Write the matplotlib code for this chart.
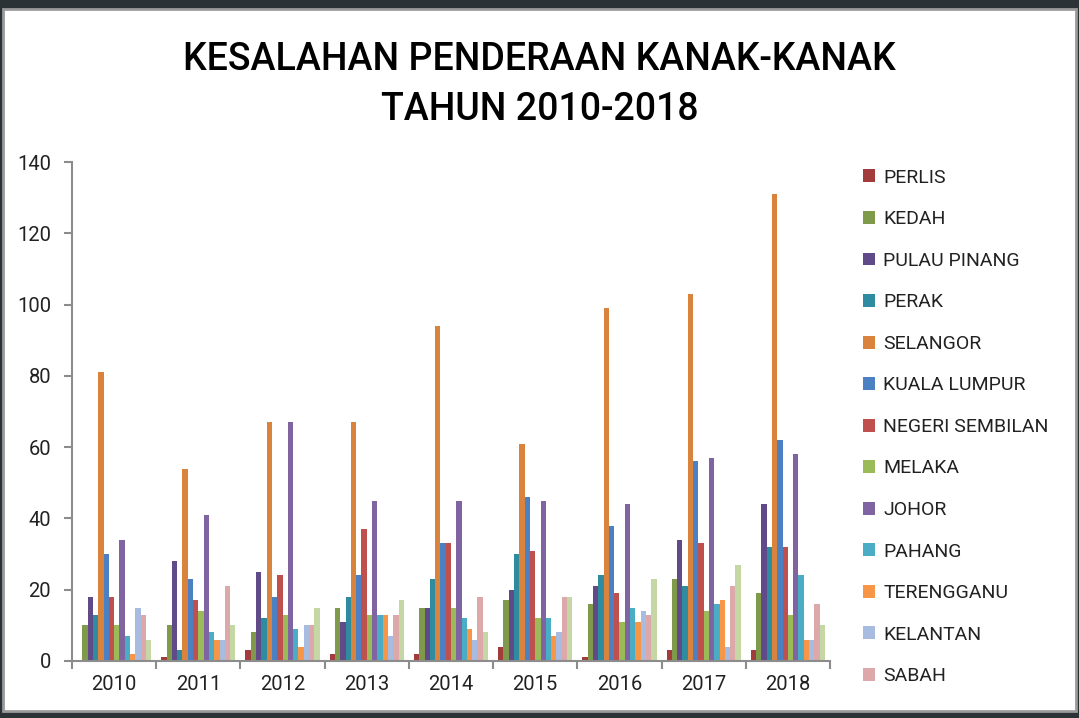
import numpy as np
import matplotlib
matplotlib.use("Agg")
import matplotlib.pyplot as plt
from matplotlib.patches import Patch, Rectangle
from matplotlib.ticker import FixedLocator

years = ["2010", "2011", "2012", "2013", "2014", "2015", "2016", "2017", "2018"]

states = ["PERLIS", "KEDAH", "PULAU PINANG", "PERAK", "SELANGOR", "KUALA LUMPUR",
          "NEGERI SEMBILAN", "MELAKA", "JOHOR", "PAHANG", "TERENGGANU",
          "KELANTAN", "SABAH", "SARAWAK"]

perlis     = [0, 1, 3, 2, 2, 4, 1, 3, 3]
kedah      = [10, 10, 8, 15, 15, 17, 16, 23, 19]
p_pinang   = [18, 28, 25, 11, 15, 20, 21, 34, 44]
perak      = [13, 3, 12, 18, 23, 30, 24, 21, 32]
selangor   = [81, 54, 67, 67, 94, 61, 99, 103, 131]
kl         = [30, 23, 18, 24, 33, 46, 38, 56, 62]
n_sembilan = [18, 17, 24, 37, 33, 31, 19, 33, 32]
melaka     = [10, 14, 13, 13, 15, 12, 11, 14, 13]
johor      = [34, 41, 67, 45, 45, 45, 44, 57, 58]
pahang     = [7, 8, 9, 13, 12, 12, 15, 16, 24]
terengganu = [2, 6, 4, 13, 9, 7, 11, 17, 6]
kelantan   = [15, 6, 10, 7, 6, 8, 14, 4, 6]
sabah      = [13, 21, 10, 13, 18, 18, 13, 21, 16]
sarawak    = [6, 10, 15, 17, 8, 18, 23, 27, 10]

series = [perlis, kedah, p_pinang, perak, selangor, kl, n_sembilan, melaka,
          johor, pahang, terengganu, kelantan, sabah, sarawak]

colors = ["#A23B3B", "#7F9A4A", "#604A87", "#2F8CA0", "#D9833D", "#4B80C2",
          "#C0504D", "#9BBB59", "#8064A2", "#4BACC6", "#F79646", "#A8BBE0",
          "#DCA8A9", "#C6D7A6"]

plt.rcParams['font.family'] = ['Roboto', 'DejaVu Sans']

fig = plt.figure(figsize=(10.79, 7.18), dpi=100)
fig.patch.set_facecolor("#2B3236")
# white panel with grey frame (screenshot border)
fig.patches.append(Rectangle((3 / 1079, 7 / 718), 1073 / 1079, 702 / 718,
                             transform=fig.transFigure, facecolor="white",
                             edgecolor="#9A9A9A", linewidth=2, zorder=-10))

ax = fig.add_axes([72 / 1079, 57 / 718, 758 / 1079, 499 / 718])
ax.set_facecolor("white")

x = np.arange(len(years))
n = len(series)
w = 0.88 / n
for i, (vals, c) in enumerate(zip(series, colors)):
    ax.bar(x + (i - (n - 1) / 2) * w, vals, width=w, color=c, linewidth=0)

ax.set_xlim(-0.5, len(years) - 0.5)
ax.set_ylim(0, 140)
ax.set_yticks(range(0, 141, 20))
ax.set_xticks(x)
ax.set_xticklabels(years)
ax.xaxis.set_minor_locator(FixedLocator(np.arange(-0.5, len(years), 1.0)))

for s in ["top", "right"]:
    ax.spines[s].set_visible(False)
for s in ["left", "bottom"]:
    ax.spines[s].set_color("#8C8C8C")
    ax.spines[s].set_linewidth(1.5)

ax.tick_params(axis="y", length=6, width=1.5, color="#8C8C8C", labelsize=14.5,
               labelcolor="#222222", pad=9)
ax.tick_params(axis="x", which="major", length=0, labelsize=14.5,
               labelcolor="#222222", pad=10)
ax.tick_params(axis="x", which="minor", length=6, width=1.5, color="#8C8C8C")

fig.text(0.5, 1 - 60 / 718, "KESALAHAN PENDERAAN KANAK-KANAK",
         ha="center", va="center", fontsize=27, fontweight="medium",
         color="black")
fig.text(0.5, 1 - 109 / 718, "TAHUN 2010-2018",
         ha="center", va="center", fontsize=27, fontweight="medium",
         color="black")

handles = [Patch(facecolor=c, edgecolor="none") for c in colors[:13]]
leg = fig.legend(handles, states[:13], loc="upper left",
                 bbox_to_anchor=(855 / 1079, 1 - 161 / 718), frameon=False,
                 fontsize=14, handlelength=0.65, handleheight=0.65,
                 handletextpad=0.4, labelspacing=1.21, borderaxespad=0)
for t in leg.get_texts():
    t.set_color("#222222")

fig.savefig("out.png", dpi=100, facecolor=fig.get_facecolor())
